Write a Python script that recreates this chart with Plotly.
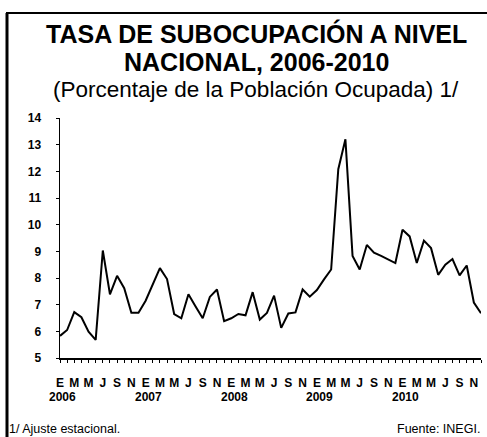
import plotly.graph_objects as go

# ---- data (Jan 2006 - Dec 2010, monthly, seasonally adjusted) ----
values = [5.83, 6.05, 6.72, 6.53, 5.99, 5.68, 9.03, 7.39, 8.08, 7.62, 6.70, 6.70,
          7.15, 7.75, 8.37, 7.96, 6.65, 6.49, 7.39, 6.93, 6.49, 7.29, 7.57, 6.38,
          6.49, 6.65, 6.60, 7.47, 6.44, 6.69, 7.34, 6.13, 6.67, 6.71, 7.57, 7.30,
          7.55, 7.95, 8.32, 12.08, 13.20, 8.83, 8.32, 9.24, 8.95, 8.83, 8.70, 8.56,
          9.81, 9.56, 8.56, 9.40, 9.12, 8.12, 8.50, 8.71, 8.10, 8.47, 7.08, 6.68]
month_letters = ["E", "", "M", "", "M", "", "J", "", "S", "", "N", ""]
years = ["2006", "2007", "2008", "2009", "2010"]
y_ticks = [5, 6, 7, 8, 9, 10, 11, 12, 13, 14]

x_idx = list(range(len(values)))
tick_text = [month_letters[i % 12] for i in x_idx]

W, H = 487, 437
L, R, T, B = 60, 6, 118, 79
PW, PH = W - L - R, H - T - B
FONT = "Liberation Sans, Arial, sans-serif"

def px(p):
    return (p - L) / PW

def py(p):
    return (H - B - p) / PH

fig = go.Figure()
fig.add_trace(go.Scatter(x=x_idx, y=values, mode="lines",
                         line=dict(color="black", width=2), hoverinfo="skip"))

annotations = [
    dict(text="<b>TASA DE SUBOCUPACIÓN A NIVEL</b>", x=px(256), y=py(34),
         font=dict(size=25, color="black", family=FONT)),
    dict(text="<b>NACIONAL, 2006-2010</b>", x=px(256), y=py(62),
         font=dict(size=25, color="black", family=FONT)),
    dict(text="(Porcentaje de la Población Ocupada) 1/", x=px(256), y=py(89),
         font=dict(size=22.5, color="black", family=FONT)),
    dict(text="1/ Ajuste estacional.", x=px(7), y=py(429), xanchor="left",
         font=dict(size=12.5, color="black", family=FONT)),
    dict(text="Fuente: INEGI.", x=px(482), y=py(429), xanchor="right",
         font=dict(size=12.5, color="black", family=FONT)),
]
for a in annotations:
    a.setdefault("xanchor", "center")
    a.update(xref="paper", yref="paper", yanchor="middle", showarrow=False)

for k, yr in enumerate(years):
    annotations.append(dict(text="<b>%s</b>" % yr, x=12 * k + 0.4, xref="x",
                            y=py(397), yref="paper", yanchor="middle",
                            xanchor="center", showarrow=False,
                            font=dict(size=12, color="black", family=FONT)))

shapes = [
    dict(type="line", xref="paper", yref="paper", x0=px(7), x1=px(7),
         y0=py(13), y1=py(437), line=dict(color="black", width=3)),
    dict(type="line", xref="paper", yref="paper", x0=px(6), x1=px(487),
         y0=py(13), y1=py(13), line=dict(color="black", width=2)),
]

fig.update_layout(
    width=W, height=H,
    margin=dict(l=L, r=R, t=T, b=B, pad=0),
    paper_bgcolor="white", plot_bgcolor="white",
    showlegend=False,
    font=dict(family=FONT, color="black"),
    annotations=annotations,
    shapes=shapes,
    xaxis=dict(range=[0, len(values) - 1], tickmode="array", tickvals=x_idx,
               ticktext=["<b>%s</b>" % t if t else "" for t in tick_text],
               ticks="outside", ticklen=3, tickcolor="black", tickwidth=1,
               showline=True, linecolor="black", linewidth=1.5,
               showgrid=False, zeroline=False, tickangle=0,
               ticklabelstandoff=10,
               tickfont=dict(size=12, color="black", family=FONT)),
    yaxis=dict(range=[5, 14], tickmode="array", tickvals=y_ticks,
               ticktext=["<b>%d</b>" % v for v in y_ticks],
               ticks="outside", ticklen=3, tickcolor="black", tickwidth=1,
               showline=True, linecolor="black", linewidth=1.5,
               showgrid=False, zeroline=False,
               ticklabelstandoff=12,
               tickfont=dict(size=12, color="black", family=FONT)),
)

fig.write_html("out.html",
               config={"displayModeBar": False, "staticPlot": True},
               post_script="document.body.style.margin='0';"
                           "document.body.style.overflow='hidden';")
